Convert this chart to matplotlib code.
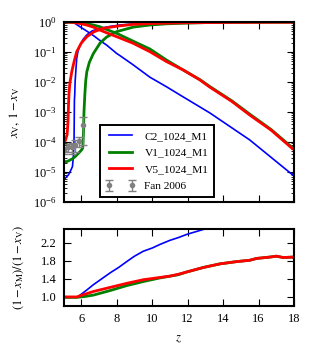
import numpy as np
import matplotlib
matplotlib.use("Agg")
import matplotlib.pyplot as plt
from matplotlib.ticker import LogLocator, NullFormatter

plt.rcParams['font.family'] = ['Liberation Serif', 'DejaVu Serif']
plt.rcParams['mathtext.fontset'] = 'stix'
plt.rcParams['font.size'] = 9

# ---- data (top panel: log10 values) ----
c2_xv_z = [5.0, 5.55, 5.93, 6.3, 6.68, 7.06, 7.43, 8.0, 8.18, 8.93, 9.87, 10.81, 11.56, 13.25, 15.5, 17.93, 18.0]
c2_xv_log = [0, -0.01, -0.16, -0.3, -0.45, -0.62, -0.77, -1.05, -1.12, -1.43, -1.84, -2.16, -2.43, -3.03, -3.93, -5.1, -5.13]
c2_ion_z = [5.0, 5.15, 5.27, 5.4, 5.5, 5.55, 5.59, 5.61, 5.63, 5.65, 5.7, 5.74, 5.82, 5.93, 6.1, 6.31, 6.6, 7.06, 7.6, 8.18, 9.0, 10.0, 11, 12, 14, 16, 18]
c2_ion_log = [-5.27, -5.17, -5.1, -4.95, -4.82, -4.49, -3.93, -2.6, -2.4, -1.99, -1.55, -1.21, -0.95, -0.77, -0.58, -0.43, -0.3, -0.21, -0.15, -0.1, -0.06, -0.04, -0.03, -0.02, -0.01, -0.005, -0.003]

v1_xv_z = [5.0, 5.93, 6.3, 6.68, 7.06, 7.43, 8.0, 8.93, 9.87, 10.81, 11.75, 12.69, 13.25, 14.5, 15.5, 16.7, 17.93, 18.0]
v1_xv_log = [0, -0.02, -0.06, -0.1, -0.16, -0.25, -0.38, -0.64, -0.9, -1.27, -1.6, -1.92, -2.15, -2.63, -3.07, -3.58, -4.2, -4.22]
v1_ion_z = [5.0, 5.2, 5.37, 5.5, 5.65, 5.8, 5.93, 6.03, 6.08, 6.12, 6.15, 6.2, 6.25, 6.31, 6.45, 6.68, 7.06, 7.43, 8.0, 8.93, 9.87, 10.8, 11.75, 13, 15, 18]
v1_ion_log = [-4.66, -4.65, -4.6, -4.56, -4.49, -4.4, -4.32, -4.25, -4.2, -3.71, -3.0, -2.4, -1.95, -1.66, -1.35, -1.05, -0.7, -0.5, -0.32, -0.17, -0.1, -0.06, -0.04, -0.02, -0.01, -0.005]

v5_xv_z = [5.0, 5.5, 5.93, 6.3, 6.68, 7.06, 7.43, 8.0, 8.93, 9.87, 10.81, 11.75, 12.69, 13.25, 14.5, 15.5, 16.7, 17.93, 18.0]
v5_xv_log = [0, -0.01, -0.05, -0.1, -0.17, -0.27, -0.36, -0.49, -0.71, -0.99, -1.32, -1.6, -1.93, -2.17, -2.65, -3.1, -3.6, -4.23, -4.25]
v5_ion_z = [5.0, 5.1, 5.2, 5.25, 5.28, 5.31, 5.35, 5.46, 5.6, 5.74, 6.0, 6.31, 6.7, 7.23, 8.0, 8.9, 10, 11, 12, 14, 16, 18]
v5_ion_log = [-4.02, -3.95, -3.75, -3.3, -2.7, -2.35, -2.05, -1.66, -1.3, -0.99, -0.7, -0.49, -0.33, -0.21, -0.14, -0.08, -0.05, -0.035, -0.025, -0.015, -0.01, -0.007]

fan_z = [5.03, 5.25, 5.45, 5.65, 5.85, 6.10]
fan_x = [5.5e-5, 6.7e-5, 6.6e-5, 8.0e-5, 1.1e-4, 3.8e-4]
fan_err = [1.4e-5, 2.1e-5, 2.6e-5, 3.3e-5, 4.0e-5, 3.0e-4]

# ---- data (bottom panel) ----
c2_ratio_z = [5.0, 5.5, 5.8, 5.93, 6.3, 6.68, 7.15, 7.62, 8.1, 8.56, 9.0, 9.5, 10.0, 10.44, 11.0, 11.47, 11.94, 12.88, 13.1]
c2_ratio = [1.0, 1.0, 1.0, 1.04, 1.15, 1.27, 1.40, 1.53, 1.65, 1.78, 1.90, 2.01, 2.08, 2.16, 2.25, 2.31, 2.38, 2.49, 2.52]
v1_ratio_z = [5.0, 5.74, 6.2, 6.68, 7.62, 8.56, 9.5, 10.44, 11.47, 11.94, 12.88, 13.82, 14.76, 15.51, 15.89, 16.63, 17.01, 17.39, 17.95, 18]
v1_ratio = [0.99, 0.99, 1.01, 1.04, 1.14, 1.25, 1.34, 1.42, 1.49, 1.55, 1.65, 1.73, 1.78, 1.81, 1.85, 1.88, 1.90, 1.87, 1.88, 1.86]
v5_ratio_z = [5.0, 5.74, 6.2, 6.68, 7.62, 8.56, 9.5, 10.44, 11.0, 11.47, 11.94, 12.88, 13.82, 14.76, 15.51, 15.89, 16.63, 17.01, 17.39, 17.95, 18]
v5_ratio = [1.0, 1.0, 1.06, 1.12, 1.21, 1.30, 1.38, 1.43, 1.46, 1.50, 1.55, 1.65, 1.73, 1.78, 1.81, 1.85, 1.88, 1.90, 1.87, 1.88, 1.86]

labels = ['C2_1024_M1', 'V1_1024_M1', 'V5_1024_M1']
colors = ['blue', 'green', 'red']
widths = [1.2, 2.0, 2.0]

fig = plt.figure(figsize=(3.18, 3.58), dpi=100)
ax1 = fig.add_axes([0.2, 0.4358, 0.7245, 0.5027])
ax2 = fig.add_axes([0.2, 0.1453, 0.7245, 0.2150])

tops = [(c2_xv_z, c2_xv_log, c2_ion_z, c2_ion_log),
        (v1_xv_z, v1_xv_log, v1_ion_z, v1_ion_log),
        (v5_xv_z, v5_xv_log, v5_ion_z, v5_ion_log)]
for (za, la, zb, lb), lab, c, w in zip(tops, labels, colors, widths):
    ax1.plot(za, 10 ** np.array(la), color=c, lw=w, label=lab)
    ax1.plot(zb, 10 ** np.array(lb), color=c, lw=w)
ax1.errorbar(fan_z, fan_x, yerr=fan_err, fmt='o', color='gray', ms=3,
             capsize=3, elinewidth=1, label='Fan 2006')

ax1.set_yscale('log')
ax1.set_xlim(5, 18)
ax1.set_ylim(1e-6, 1)
ax1.yaxis.set_major_locator(LogLocator(base=10, numticks=10))
ax1.yaxis.set_minor_locator(LogLocator(base=10, subs=np.arange(2, 10), numticks=20))
ax1.yaxis.set_minor_formatter(NullFormatter())
ax1.set_xticks([6, 8, 10, 12, 14, 16, 18])
ax1.tick_params(axis='x', labelbottom=False)
ax1.set_ylabel(r'$x_{\rm V},\, 1-x_{\rm V}$')
ax1.yaxis.set_label_coords(-0.18, 0.5)
leg = ax1.legend(loc='lower left', bbox_to_anchor=(0.158, 0.028), borderaxespad=0,
                 fancybox=False, edgecolor='black', framealpha=1, fontsize=8.2,
                 handlelength=2.6, numpoints=2, borderpad=0.5, labelspacing=0.6)
leg.get_frame().set_linewidth(1.4)

for z, r, c, w in zip([c2_ratio_z, v1_ratio_z, v5_ratio_z],
                      [c2_ratio, v1_ratio, v5_ratio], colors, widths):
    ax2.plot(z, r, color=c, lw=w)
ax2.set_xlim(5, 18)
ax2.set_ylim(0.8, 2.5)
ax2.set_xticks([6, 8, 10, 12, 14, 16, 18])
ax2.set_yticks([1.0, 1.4, 1.8, 2.2])
ax2.set_xlabel(r'$z$', labelpad=6)
ax2.set_ylabel(r'$(1-x_{\rm M})/(1-x_{\rm V})$')
ax2.yaxis.set_label_coords(-0.165, 0.5)

for ax in (ax1, ax2):
    for s in ax.spines.values():
        s.set_linewidth(1.5)
    ax.tick_params(which='both', direction='in', top=True, right=True, labelsize=9)
    ax.tick_params(which='major', length=5, width=0.8, pad=5)
    ax.tick_params(which='minor', length=2.5, width=0.6)

fig.savefig('out.png', dpi=100)
